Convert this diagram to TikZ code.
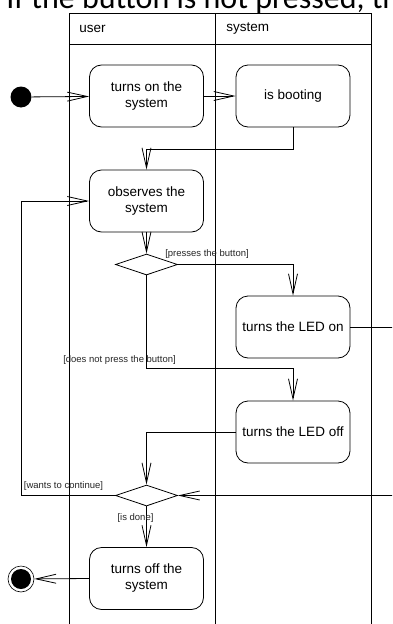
\documentclass[tikz,border=0pt]{standalone}
\usepackage{fontspec}
\setmainfont{Liberation Sans}
\newfontfamily\titlefont{Carlito}
\usetikzlibrary{arrows.meta,shapes.geometric,calc}
\begin{document}
\begin{tikzpicture}[x=1pt,y=-1pt,line width=0.8pt,
  act/.style={draw, rounded corners=12pt, minimum width=114pt, minimum height=62pt,
    align=center, inner sep=0pt, font=\fontsize{13.5}{16}\selectfont},
  dec/.style={draw, diamond, minimum width=62pt, minimum height=21pt, inner sep=0pt},
  initnode/.style={circle, fill=black, minimum size=21pt, inner sep=0pt},
  finalnode/.style={circle, draw, line width=0.6pt, minimum size=26pt, inner sep=0pt,
    path picture={\fill[black] (path picture bounding box.center) circle (10pt);}},
  flow/.style={draw, -{Straight Barb[length=20pt,width=9pt,line width=0.8pt]}},
  lbl/.style={font=\fontsize{9.5}{11}\selectfont, text=black!85, inner sep=0pt},
  hdr/.style={font=\fontsize{13.5}{16}\selectfont, anchor=west, inner sep=0pt},
  lane/.style={draw, line width=0.7pt}]
\useasboundingbox (0,0) rectangle (392,624);
\clip (0,0) rectangle (392,624);

% title (clipped at the top, as in the reference)
\node[anchor=base west, inner sep=0pt, font=\titlefont\fontsize{32}{38}\selectfont] (title) at (6,8.5) {If the button is not pressed, th};

% swimlanes
\draw[lane] (69,640) -- (69,13.5) -- (371,13.5) -- (371,640);
\draw[lane] (215,13.5) -- (215,640);
\draw[lane] (69,44) -- (371,44);
\node[hdr] (huser) at (79,29) {user};
\node[hdr] (hsys) at (226,29) {system};

% nodes
\node[initnode] (start) at (21,97) {};
\node[act] (on) at (146.5,96) {turns on the\\system};
\node[act] (boot) at (293,96) {is booting};
\node[act] (obs) at (146.5,201) {observes the\\system};
\node[dec] (d1) at (146.5,264.5) {};
\node[act] (ledon) at (293,327) {turns the LED on};
\node[act] (ledoff) at (293,432) {turns the LED off};
\node[dec] (d2) at (146.5,495.5) {};
\node[act] (off) at (146.5,578.5) {turns off the\\system};
\node[finalnode] (end) at (21,579) {};

% connectors
\draw[flow] (start) -- (on);
\draw[flow] (on) -- (boot);
\draw[flow] (boot.south) -- ++(0,22) -| (obs.north);
\draw[flow] (obs) -- (d1);
\draw[flow] (d1.east) -| (ledon.north);
\draw[flow] (d1.south) |- ($(ledoff.north)+(0,-32)$) -- (ledoff.north);
\draw[flow] (ledoff.west) -| (d2.north);
\draw[flow] (ledon.east) -- ++(70,0) |- (d2.east);
\draw[flow] (d2.west) -- (d2.west -| start) |- (obs.west);
\draw[flow] (d2.south) -- (off.north);
\draw[flow] (off.west) -- (end);

% guards
\node[lbl] (g1) at (207,254.5) {[presses the button]};
\node[lbl] (g2) at (119.5,360) {[does not press the button]};
\node[lbl] (g3) at (63.5,486) {[wants to continue]};
\node[lbl] (g4) at (135.5,518) {[is done]};
\end{tikzpicture}
\end{document}
